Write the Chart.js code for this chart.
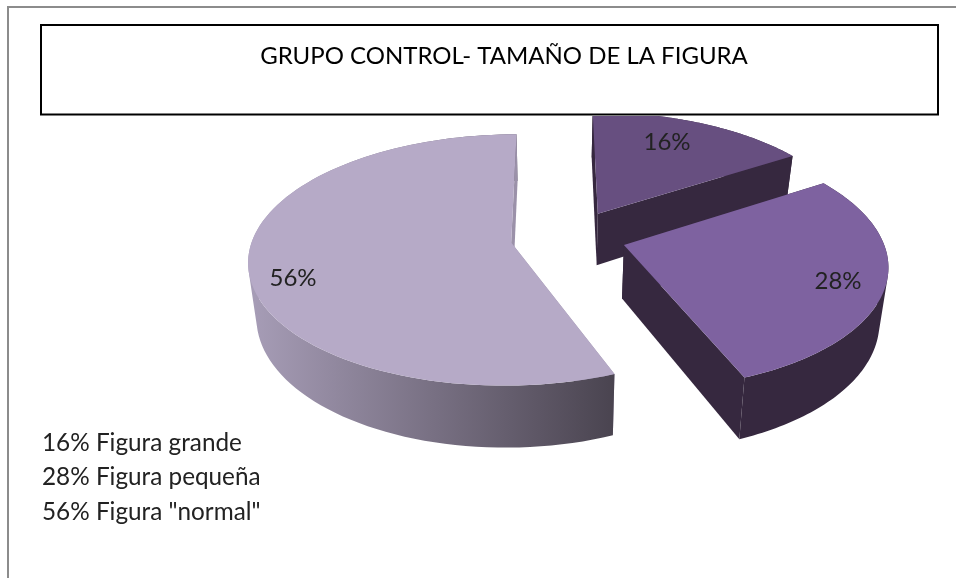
<!DOCTYPE html>
<html>
<head>
<meta charset="utf-8">
<style>html,body{margin:0;padding:0;background:#fff}#wrap{width:956px;height:578px}</style>
<script src="https://cdn.jsdelivr.net/npm/chart.js@4/dist/chart.umd.min.js"></script>
</head>
<body>
<div id="wrap"><canvas id="c" width="956" height="578"></canvas></div>
<script>
const titleText = 'GRUPO CONTROL- TAMAÑO DE LA FIGURA';
const categories = ['Figura grande', 'Figura pequeña', 'Figura "normal"'];
const values = [16, 28, 56];
const explode = [22.5, 21.3, 23.5];
const topColors = ['#674f80', '#7e62a0', '#b6aac7'];
const labelSpots = [[667, 142], [838, 281], [293, 278]];

const cam = {x0: 555, y0: 237, off: 16, B: 258, A: 121.7, k: 0.139, H: 53, f: 0.973};
function proj(U, V, low) {
  const D = 1 + cam.k * V;
  let x = cam.x0 + (cam.off + cam.B * U) / D;
  let y = cam.y0 - cam.A * V / D;
  if (low) { x = cam.x0 + (x - cam.x0) * cam.f; y += cam.H / D; }
  return [x, y];
}
function addPoly(ctx, pts) {
  let area = 0;
  pts.forEach((p, i) => {
    const q = pts[(i + 1) % pts.length];
    area += p[0] * q[1] - q[0] * p[1];
  });
  const list = area < 0 ? pts.slice().reverse() : pts;
  list.forEach((p, i) => i ? ctx.lineTo(p[0], p[1]) : ctx.moveTo(p[0], p[1]));
  ctx.closePath();
}
function poly(ctx, pts, fill) {
  ctx.beginPath();
  addPoly(ctx, pts);
  ctx.fillStyle = fill;
  ctx.fill();
}
const pie3d = {
  id: 'pie3d',
  beforeDraw(chart) {
    const ctx = chart.ctx;
    ctx.save();
    ctx.fillStyle = '#fff';
    ctx.fillRect(0, 0, 956, 578);
    ctx.fillStyle = '#8c8c8c';
    ctx.fillRect(7, 6, 949, 2);
    ctx.fillRect(7, 6, 2, 572);
    ctx.strokeStyle = '#000';
    ctx.lineWidth = 2;
    ctx.strokeRect(41, 25, 897, 89.5);
    ctx.restore();
  },
  beforeDatasetsDraw(chart) {
    const ctx = chart.ctx;
    const arcs = chart.getDatasetMeta(0).data;
    ctx.save();
    ctx.beginPath();
    ctx.rect(0, 116, 956, 462);
    ctx.clip();
    [2, 0, 1].forEach(i => {
      const a = arcs[i];
      const mid = (a.startAngle + a.endAngle) / 2;
      const d = explode[i] / 100;
      const ou = d * Math.cos(mid), ov = -d * Math.sin(mid);
      const at = (t, low) => proj(ou + Math.cos(t), ov - Math.sin(t), low);
      const apex = low => proj(ou, ov, low);
      const steps = 96, top = [], bot = [];
      for (let s = 0; s <= steps; s++) {
        const t = a.startAngle + (a.endAngle - a.startAngle) * s / steps;
        top.push(at(t, false));
        bot.push(at(t, true));
      }
      let wall = '#36283f', face = '#36283f';
      if (i === 2) {
        wall = ctx.createLinearGradient(246, 0, 613, 0);
        wall.addColorStop(0, '#a89eb8');
        wall.addColorStop(1, '#4a4450');
        face = '#9b91a9';
      }
      poly(ctx, [apex(false), top[0], bot[0], apex(true)], face);
      ctx.beginPath();
      for (let s = 0; s < steps; s++) {
        addPoly(ctx, [top[s], top[s + 1], bot[s + 1], bot[s]]);
      }
      ctx.fillStyle = wall;
      ctx.fill();
      poly(ctx, [apex(false), top[steps], bot[steps], apex(true)], face);
      poly(ctx, [apex(false)].concat(top), topColors[i]);
    });
    ctx.restore();
    return false;
  },
  afterDraw(chart) {
    const ctx = chart.ctx;
    ctx.save();
    ctx.font = '24px Lato';
    ctx.fillStyle = '#222';
    ctx.textAlign = 'center';
    ctx.textBaseline = 'middle';
    values.forEach((v, i) => ctx.fillText(v + '%', labelSpots[i][0], labelSpots[i][1]));
    ctx.textAlign = 'left';
    ctx.font = '24.3px Lato';
    values.forEach((v, i) => ctx.fillText(v + '% ' + categories[i], 42, 443 + i * 34.5));
    ctx.restore();
  }
};
new Chart(document.getElementById('c'), {
  type: 'pie',
  data: {labels: categories, datasets: [{data: values, backgroundColor: topColors, offset: explode, borderWidth: 0}]},
  options: {
    responsive: false,
    animation: false,
    layout: {padding: {left: 52}},
    plugins: {
      legend: {display: false},
      tooltip: {enabled: false},
      title: {display: true, text: titleText, color: '#000', font: {family: 'Lato', size: 24, weight: 'normal'}, padding: {top: 42, bottom: 40}}
    }
  },
  plugins: [pie3d]
});
</script>
</body>
</html>
